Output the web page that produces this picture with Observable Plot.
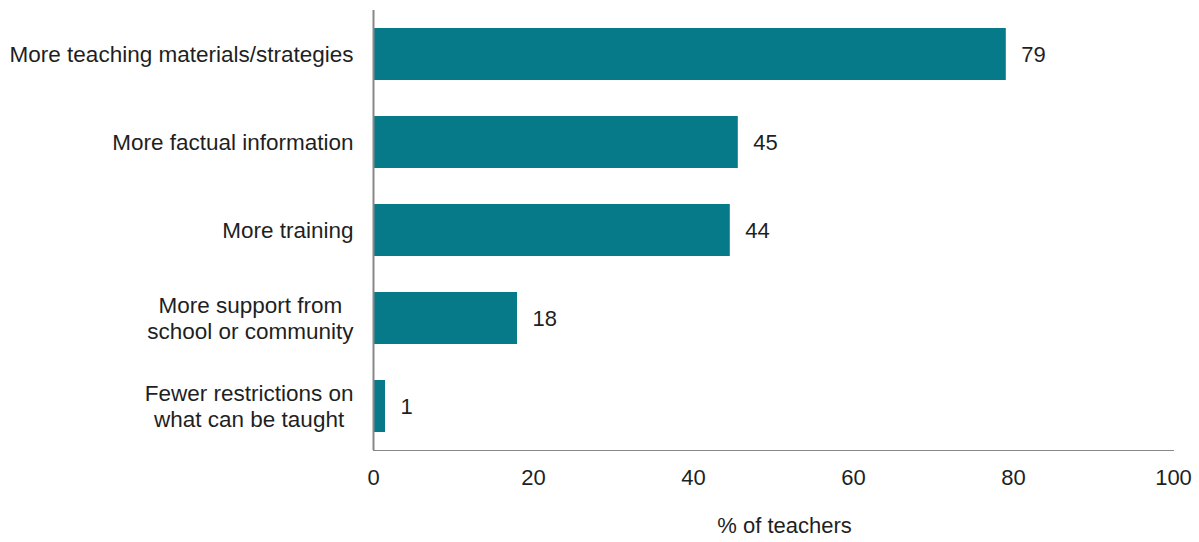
<!DOCTYPE html>
<html>
<head>
<meta charset="utf-8">
<script src="https://cdn.jsdelivr.net/npm/d3@7"></script>
<script src="https://cdn.jsdelivr.net/npm/@observablehq/plot@0.6"></script>
<style>
  html, body { margin: 0; padding: 0; background: #fff; }
  svg { font-family: "Liberation Sans", Arial, sans-serif; }
</style>
</head>
<body>
<script>
const categories = [
  "More teaching materials/strategies",
  "More factual information",
  "More training",
  "More support from\nschool or community",
  "Fewer restrictions on\nwhat can be taught"
];
const values = [79.1, 45.6, 44.6, 18, 1.5];
const valueLabels = ["79", "45", "44", "18", "1"];
const xTicks = [0, 20, 40, 60, 80, 100];
const xTitle = "% of teachers";

const data = categories.map((c, i) => ({category: c, value: values[i], label: valueLabels[i]}));

const textColor = "#1f1f1f";
const fs = 22;
const chart = Plot.plot({
  width: 1199,
  height: 542,
  marginTop: 10,
  marginBottom: 92,
  marginLeft: 373,
  marginRight: 26,
  style: {fontFamily: "'Liberation Sans', Arial, sans-serif", fontSize: fs + "px", color: textColor, background: "#fff"},
  x: {domain: [0, 100]},
  y: {domain: categories, paddingInner: 0.41, paddingOuter: 0.205},
  marks: [
    Plot.barX(data, {x: "value", y: "category", fill: "#077A8A"}),
    Plot.text(data, {x: "value", y: "category", text: "label", textAnchor: "start", dx: 15, fontSize: fs, fill: textColor}),
    Plot.ruleX([0], {stroke: "#888", strokeWidth: 2}),
    Plot.frame({anchor: "bottom", stroke: "#888", strokeWidth: 1}),
    Plot.axisY({tickSize: 0, tickPadding: 20, fontSize: 22.5, lineHeight: 1.16, label: null, fill: textColor, dy: -1}),
    Plot.axisX({ticks: xTicks, tickSize: 0, tickPadding: 19, fontSize: fs, fill: textColor,
      label: xTitle, labelAnchor: "center", labelArrow: false, labelOffset: 82})
  ]
});
document.body.append(chart);

// Center multi-line tick labels within their own block, keeping the block right-aligned
chart.querySelectorAll('g[aria-label="y-axis tick label"] text').forEach(t => {
  const spans = t.querySelectorAll("tspan");
  if (spans.length > 1) {
    let maxW = 0;
    spans.forEach(s => { maxW = Math.max(maxW, s.getComputedTextLength()); });
    t.setAttribute("text-anchor", "middle");
    spans.forEach(s => s.setAttribute("x", -maxW / 2));
  }
});
// Nudge the x-axis title slightly right, as in the reference
const xl = chart.querySelector('g[aria-label="x-axis label"] text');
if (xl) xl.setAttribute("dx", 11);
</script>
</body>
</html>
